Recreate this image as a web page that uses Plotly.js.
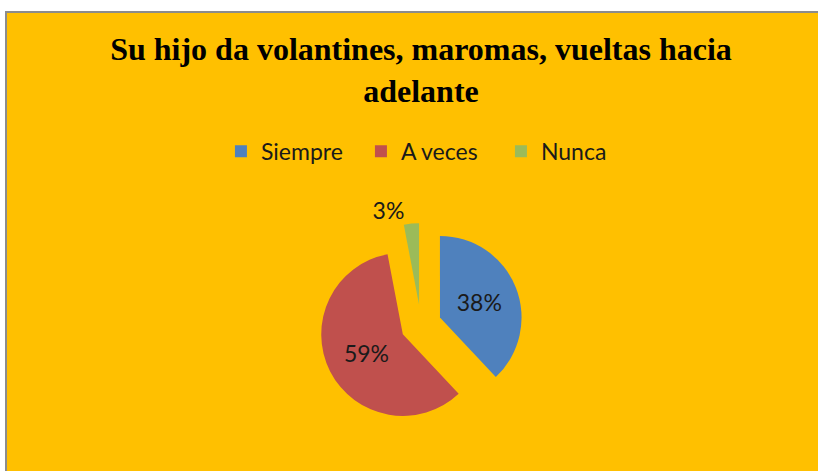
<!DOCTYPE html>
<html>
<head>
<meta charset="utf-8">
<script src="https://cdn.plot.ly/plotly-3.0.1.min.js"></script>
<style>
  html, body { margin: 0; padding: 0; background: #ffffff; overflow: hidden; width: 818px; height: 471px; }
  #frame { position: absolute; left: 5px; top: 11px; width: 840px; height: 480px;
           border-left: 2px solid #8c8c8c; border-top: 2px solid #8c8c8c; overflow: hidden; }
  #chart { position: absolute; left: 0; top: 0; width: 828px; height: 470px; }
</style>
</head>
<body>
<div id="frame"><div id="chart"></div></div>
<script>
const categories = ['Siempre', 'A veces', 'Nunca'];
const values = [38, 59, 3];
const sliceColors = ['#4F81BD', '#C0504D', '#9BBB59'];
const chartTitle = 'Su hijo da volantines, maromas, vueltas hacia<br>adelante';

const trace = {
  type: 'pie',
  labels: categories,
  values: values,
  sort: false,
  direction: 'clockwise',
  rotation: 0,
  pull: [0.25, 0.25, 0.25],
  marker: { colors: sliceColors, line: { width: 0 } },
  textinfo: 'percent',
  textposition: ['inside', 'inside', 'outside'],
  insidetextorientation: 'horizontal',
  textfont: { family: 'Lato, sans-serif', size: 23, color: '#1a1a1a' },
  hoverinfo: 'none',
  domain: { x: [0.3768, 0.6232], y: [0.119, 0.553] }
};

const layout = {
  width: 828,
  height: 470,
  paper_bgcolor: '#FFC000',
  plot_bgcolor: '#FFC000',
  margin: { l: 0, r: 0, t: 0, b: 0 },
  title: {
    text: chartTitle,
    font: { family: '"Liberation Serif", "Times New Roman", serif', size: 32, color: '#000000', weight: 'bold' },
    x: 0.5, xanchor: 'center', xref: 'paper',
    y: 0.899, yanchor: 'top', yref: 'container'
  },
  showlegend: true,
  legend: {
    orientation: 'h',
    x: 0.512, xanchor: 'center',
    y: 0.706, yanchor: 'middle',
    entrywidth: 95, entrywidthmode: 'pixels',
    font: { family: 'Lato, sans-serif', size: 23, color: '#1a1a1a' },
    bgcolor: 'rgba(0,0,0,0)'
  }
};

Plotly.newPlot('chart', [trace], layout, { displayModeBar: false, staticPlot: true });
</script>
</body>
</html>
